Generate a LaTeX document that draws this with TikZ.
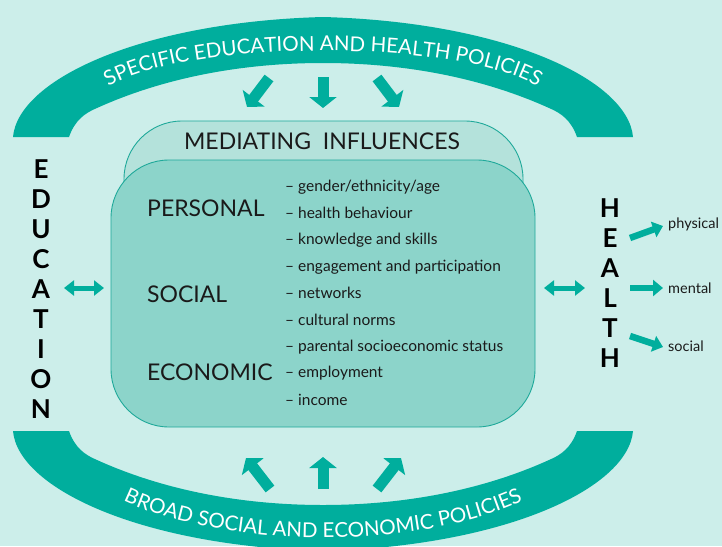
\documentclass[tikz,border=0pt]{standalone}
\usepackage{fontspec}
\setmainfont{Lato}
\usetikzlibrary{arrows.meta,decorations.text}
\definecolor{bgc}{HTML}{CCEEEA}
\definecolor{tealc}{HTML}{00AE9D}
\definecolor{frontc}{HTML}{8CD4CA}
\definecolor{backc}{HTML}{B4E2DB}
\definecolor{edgec}{HTML}{1FA99A}
\definecolor{inkc}{HTML}{1A1A1A}
\begin{document}
\begin{tikzpicture}[x=1pt,y=-1pt,
  archband/.style={fill=tealc},
  boxshape/.style={draw=edgec, line width=0.9pt, rounded corners=58pt, inner sep=0pt},
  backbox/.style={boxshape, fill=backc},
  frontbox/.style={boxshape, fill=frontc},
  blockarrow/.style={draw=tealc, line width=11pt, -{Triangle[length=11pt,width=27pt]}},
  dblarrow/.style={draw=tealc, line width=5pt, {Triangle[length=10pt,width=15pt]}-{Triangle[length=10pt,width=15pt]}},
  harrow/.style={draw=tealc, line width=6.5pt, -{Triangle[length=10pt,width=16pt]}},
  bigcap/.style={font=\fontsize{23}{23}\selectfont, text=inkc, inner sep=0pt},
  listitem/.style={font=\fontsize{15.5}{15.5}\selectfont, text=inkc, anchor=west, inner sep=0pt},
  vertword/.style={font=\fontsize{26}{30}\selectfont\bfseries, text=black, align=center, inner sep=0pt},
  outlabel/.style={font=\fontsize{14.5}{14.5}\selectfont, text=inkc, anchor=west, inner sep=0pt}
]
\useasboundingbox (0,0) rectangle (722,546);
\clip (0,0) rectangle (722,546);
\fill[bgc] (0,0) rectangle (722,546);

% top arch
\fill[archband] (13,137) .. controls (18,80) and (140,22) .. (323,17)
  .. controls (506,22) and (628,80) .. (633,137) -- (577,137)
  .. controls (571,120) and (561,113) .. (549,108)
  .. controls (476,75) and (396,63) .. (323,63)
  .. controls (250,63) and (170,75) .. (97,108)
  .. controls (85,113) and (75,120) .. (69,137) -- cycle;
% bottom arch
\fill[archband] (13,431) .. controls (18,488) and (140,546) .. (323,551)
  .. controls (506,546) and (628,488) .. (633,431) -- (577,431)
  .. controls (571,448) and (561,455) .. (549,460)
  .. controls (476,493) and (396,505) .. (323,505)
  .. controls (250,505) and (170,493) .. (97,460)
  .. controls (85,455) and (75,448) .. (69,431) -- cycle;

% arch texts
\path[decorate, decoration={text along path, text align=center, text color=white,
  text={|\fontsize{20.5}{20.5}\selectfont|SPECIFIC EDUCATION AND HEALTH POLICIES}}]
  (105,89) .. controls (180,38) and (466,38) .. (541,89);
\path[decorate, decoration={text along path, text align=center, text color=white,
  text={|\fontsize{20.5}{20.5}\selectfont|BROAD SOCIAL AND ECONOMIC POLICIES}}]
  (116,497) .. controls (220,551) and (426,551) .. (530,497);

% boxes
\node[backbox, minimum width=399pt, minimum height=200pt] (back) at (323.5,221) {};
\node[frontbox, minimum width=424pt, minimum height=267pt] (front) at (323,293.5) {};

\node[bigcap] (med) at (322,141) {MEDIATING\ \ INFLUENCES};
\node[bigcap, anchor=west] (personal) at (147,208) {PERSONAL};
\node[bigcap, anchor=west] (social) at (147,294) {SOCIAL};
\node[bigcap, anchor=west] (economic) at (147,372) {ECONOMIC};

\node[listitem] (l1) at (285,187) {– gender/ethnicity/age};
\node[listitem] (l2) at (285,213) {– health behaviour};
\node[listitem] (l3) at (285,240) {– knowledge and skills};
\node[listitem] (l4) at (285,267) {– engagement and participation};
\node[listitem] (l5) at (285,293) {– networks};
\node[listitem] (l6) at (285,320) {– cultural norms};
\node[listitem] (l7) at (285,347) {– parental socioeconomic status};
\node[listitem] (l8) at (285,373) {– employment};
\node[listitem] (l9) at (285,400) {– income};

% vertical words
\node[vertword] (edu) at (41,289) {E\\D\\U\\C\\A\\T\\I\\O\\N};
\node[vertword] (health) at (610,283) {H\\E\\A\\L\\T\\H};

% outcome labels
\node[outlabel] (phys) at (668,224) {physical};
\node[outlabel] (ment) at (668,288) {mental};
\node[outlabel] (soc) at (668,346) {social};

% block arrows top
\coordinate (ta1) at (269,78); \coordinate (tb1) at (247,107);
\coordinate (ta2) at (323,77); \coordinate (tb2) at (323,108);
\coordinate (ta3) at (377,78); \coordinate (tb3) at (399,107);
\draw[blockarrow] (ta1) -- (tb1);
\draw[blockarrow] (ta2) -- (tb2);
\draw[blockarrow] (ta3) -- (tb3);
% block arrows bottom
\coordinate (ba1) at (270,489); \coordinate (bb1) at (246,458);
\coordinate (ba2) at (323,489); \coordinate (bb2) at (323,457);
\coordinate (ba3) at (377,489); \coordinate (bb3) at (401,458);
\draw[blockarrow] (ba1) -- (bb1);
\draw[blockarrow] (ba2) -- (bb2);
\draw[blockarrow] (ba3) -- (bb3);

% double arrows
\coordinate (el) at (64,288); \coordinate (er) at (104,288);
\coordinate (hl) at (544,288); \coordinate (hr) at (585,288);
\draw[dblarrow] (el) -- (er);
\draw[dblarrow] (hl) -- (hr);

% health outcome arrows
\coordinate (p0) at (630,238); \coordinate (p1) at (663,226);
\coordinate (m0) at (630,288); \coordinate (m1) at (663,288);
\coordinate (s0) at (630,336); \coordinate (s1) at (663,347);
\draw[harrow] (p0) -- (p1);
\draw[harrow] (m0) -- (m1);
\draw[harrow] (s0) -- (s1);
\end{tikzpicture}
\end{document}
